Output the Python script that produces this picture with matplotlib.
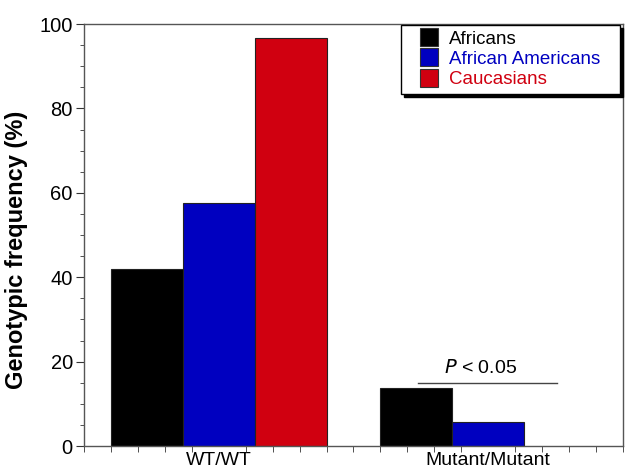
import matplotlib.pyplot as plt
from matplotlib.lines import Line2D
from matplotlib.ticker import MultipleLocator

plt.rcParams['font.family'] = ['Liberation Sans', 'DejaVu Sans']

# genotype groups and populations
groups = ["WT/WT", "Mutant/Mutant"]
populations = ["Africans", "African Americans", "Caucasians"]
colors = ["#000000", "#0000c0", "#d00010"]

# genotypic frequency (%) per population, one value per group
africans = [41.9, 13.7]
african_americans = [57.7, 5.8]
caucasians = [96.6, 0.0]
values = [africans, african_americans, caucasians]

fig = plt.figure(figsize=(6.29, 4.71), dpi=100)
ax = fig.add_axes([0.1335, 0.053, 0.857, 0.896])

centers = [5, 15]
width = 8 / 3
for i, (vals, col) in enumerate(zip(values, colors)):
    xs = [c + (i - 1) * width for c in centers]
    keep = [(x, v) for x, v in zip(xs, vals) if v > 0]
    ax.bar([k[0] for k in keep], [k[1] for k in keep], width=width,
           color=col, edgecolor="#222222", linewidth=0.8)

# significance line for the mutant group
ax.plot([12.4, 17.55], [15, 15], color="#444444", lw=1)
ax.text(14.7, 16.3, r"$P$ < 0.05", ha="center", va="bottom", fontsize=14)

ax.set_xlim(0, 20)
ax.set_ylim(0, 100)
ax.set_xticks(centers)
ax.set_xticklabels(groups, fontsize=14)
ax.xaxis.set_minor_locator(MultipleLocator(1))
ax.tick_params(axis="x", which="major", length=0, pad=4)
ax.tick_params(axis="x", which="minor", direction="out", length=4, color="#333333")
ax.yaxis.set_major_locator(MultipleLocator(20))
ax.yaxis.set_minor_locator(MultipleLocator(5))
ax.tick_params(axis="y", which="major", direction="out", length=6, labelsize=14.5,
               pad=2, color="#333333")
ax.tick_params(axis="y", which="minor", direction="out", length=3, color="#333333")
ax.set_ylabel("Genotypic frequency (%)", fontsize=17, fontweight="bold")
ax.yaxis.set_label_coords(-0.104, 0.464)
for s in ax.spines.values():
    s.set_color("#555555")
    s.set_linewidth(1)

handles = [Line2D([], [], marker="s", markersize=13, linestyle="none",
                  markerfacecolor=c, markeredgecolor="#333333", markeredgewidth=0.8)
           for c in colors]
leg = ax.legend(handles, populations, loc="upper left",
                bbox_to_anchor=(0.588, 0.5, 0.406, 0.498), mode="expand",
                borderaxespad=0, fontsize=13.5, frameon=True, fancybox=False,
                handlelength=2.39, handletextpad=-0.12,
                labelspacing=0.17, borderpad=0.3,
                shadow={"facecolor": "black", "edgecolor": "black", "alpha": 1, "ox": 2, "oy": -2})
leg.get_frame().set_edgecolor("black")
leg.get_frame().set_linewidth(1)
for t, c in zip(leg.get_texts(), colors):
    t.set_color(c)

fig.savefig("out.png", dpi=100)
